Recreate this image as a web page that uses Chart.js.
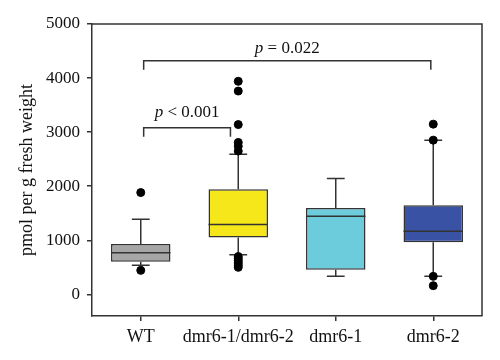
<!DOCTYPE html>
<html>
<head>
<meta charset="utf-8">
<script src="https://cdn.jsdelivr.net/npm/chart.js@4"></script>
<style>
  html, body { margin: 0; padding: 0; background: #fff; }
  #wrap { width: 500px; height: 360px; }
</style>
</head>
<body>
<div id="wrap"><canvas id="boxChart"></canvas></div>
<script>
// categories and box statistics
const groups = ['WT', 'dmr6-1/dmr6-2', 'dmr6-1', 'dmr6-2'];
const whiskerLow = [537, 734, 333, 333];
const q1 = [605, 1050, 457, 963];
const median = [772, 1290, 1444, 1167];
const q3 = [931, 1944, 1598, 1648];
const whiskerHigh = [1389, 2590, 2142, 2852];
const outliers = [
    [444, 1883],
    [500, 540, 580, 620, 660, 700, 2650, 2740, 2810, 3140, 3760, 3940],
    [],
    [161, 333, 2852, 3148]
];
const boxColors = ['#A6A6A6', '#F5E71A', '#6DCCDB', '#3A52A3'];
const yTicks = [0, 1000, 2000, 3000, 4000, 5000];

// significance brackets
const bracketFrom = [0.03, 0.03];
const bracketTo = [0.92, 2.975];
const bracketY = [3080, 4320];
const pLabels = ['< 0.001', '= 0.022'];
const pLabelY = [3278, 4469];

const inkColor = '#333333';
const fontFamily = '"Liberation Serif", "DejaVu Serif", serif';

const outlierPoints = [];
outliers.forEach((vals, i) => {
    vals.forEach(v => outlierPoints.push({ x: groups[i], y: v }));
});

// whiskers, medians, frame and the p-value brackets
const boxExtras = {
    id: 'boxExtras',
    beforeDatasetsDraw(chart) {
        const ctx = chart.ctx;
        const x = chart.scales.x, y = chart.scales.y;
        const bars = chart.getDatasetMeta(0).data;
        ctx.save();
        ctx.strokeStyle = inkColor;
        ctx.lineWidth = 1.5;
        groups.forEach((g, i) => {
            const cx = x.getPixelForValue(i);
            const capHalf = bars[i].width * 0.15;
            ctx.beginPath();
            ctx.moveTo(cx, y.getPixelForValue(q3[i]));
            ctx.lineTo(cx, y.getPixelForValue(whiskerHigh[i]));
            ctx.moveTo(cx, y.getPixelForValue(q1[i]));
            ctx.lineTo(cx, y.getPixelForValue(whiskerLow[i]));
            ctx.moveTo(cx - capHalf, y.getPixelForValue(whiskerHigh[i]));
            ctx.lineTo(cx + capHalf, y.getPixelForValue(whiskerHigh[i]));
            ctx.moveTo(cx - capHalf, y.getPixelForValue(whiskerLow[i]));
            ctx.lineTo(cx + capHalf, y.getPixelForValue(whiskerLow[i]));
            ctx.stroke();
        });
        ctx.restore();
    },
    afterDatasetsDraw(chart) {
        const ctx = chart.ctx;
        const x = chart.scales.x, y = chart.scales.y;
        const bars = chart.getDatasetMeta(0).data;
        const area = chart.chartArea;
        ctx.save();
        ctx.strokeStyle = inkColor;
        ctx.lineWidth = 1.5;
        // medians
        groups.forEach((g, i) => {
            const cx = x.getPixelForValue(i);
            const half = bars[i].width / 2;
            const py = y.getPixelForValue(median[i]);
            ctx.beginPath();
            ctx.moveTo(cx - half, py);
            ctx.lineTo(cx + half, py);
            ctx.stroke();
        });
        // top and right frame
        ctx.beginPath();
        ctx.moveTo(area.left, area.top);
        ctx.lineTo(area.right, area.top);
        ctx.lineTo(area.right, area.bottom);
        ctx.stroke();
        // brackets
        ctx.fillStyle = '#111';
        ctx.textBaseline = 'alphabetic';
        bracketY.forEach((v, k) => {
            const x1 = x.getPixelForValue(bracketFrom[k]);
            const x2 = x.getPixelForValue(bracketTo[k]);
            const py = y.getPixelForValue(v);
            ctx.beginPath();
            ctx.moveTo(x1, py + 9);
            ctx.lineTo(x1, py);
            ctx.lineTo(x2, py);
            ctx.lineTo(x2, py + 9);
            ctx.stroke();

            const italic = 'italic 17px ' + fontFamily;
            const regular = '17px ' + fontFamily;
            ctx.font = italic;
            const wp = ctx.measureText('p ').width;
            ctx.font = regular;
            const wr = ctx.measureText(pLabels[k]).width;
            const start = (x1 + x2) / 2 - (wp + wr) / 2;
            const ty = y.getPixelForValue(pLabelY[k]);
            ctx.font = italic;
            ctx.fillText('p ', start, ty);
            ctx.font = regular;
            ctx.fillText(pLabels[k], start + wp, ty);
        });
        ctx.restore();
    }
};

new Chart('boxChart', {
    type: 'bar',
    data: {
        labels: groups,
        datasets: [{
            data: q1.map((v, i) => [v, q3[i]]),
            backgroundColor: boxColors,
            borderColor: inkColor,
            borderWidth: 1.5,
            borderSkipped: false,
            barPercentage: 0.61,
            categoryPercentage: 1.0,
            order: 2
        }, {
            type: 'scatter',
            data: outlierPoints,
            backgroundColor: '#000',
            borderColor: '#000',
            pointRadius: 4,
            order: 1
        }]
    },
    options: {
        responsive: true,
        maintainAspectRatio: false,
        animation: false,
        layout: { padding: { left: 0, right: 18, top: 24, bottom: 0 } },
        plugins: {
            legend: { display: false },
            tooltip: { enabled: false }
        },
        scales: {
            x: {
                type: 'category',
                offset: true,
                grid: { display: true, drawOnChartArea: false, drawTicks: true, tickLength: 5, offset: false, color: inkColor, lineWidth: 1.5 },
                border: { display: true, color: inkColor, width: 1.5 },
                ticks: { color: '#111', font: { family: fontFamily, size: 18 }, padding: 5, maxRotation: 0, autoSkip: false },
                afterFit: s => { s.height = 44; }
            },
            y: {
                min: -400,
                max: 5000,
                afterBuildTicks: s => { s.ticks = yTicks.map(v => ({ value: v })); },
                grid: { display: true, drawOnChartArea: false, drawTicks: true, tickLength: 5, color: inkColor, lineWidth: 1.5 },
                border: { display: true, color: inkColor, width: 1.5 },
                ticks: { color: '#111', font: { family: fontFamily, size: 17 }, padding: 7, callback: v => String(v) },
                title: { display: true, text: 'pmol per g fresh weight', color: '#111', font: { family: fontFamily, size: 18 }, padding: { top: 16, bottom: 0 } },
                afterFit: s => { s.width = 92; }
            }
        }
    },
    plugins: [boxExtras]
});
</script>
</body>
</html>
